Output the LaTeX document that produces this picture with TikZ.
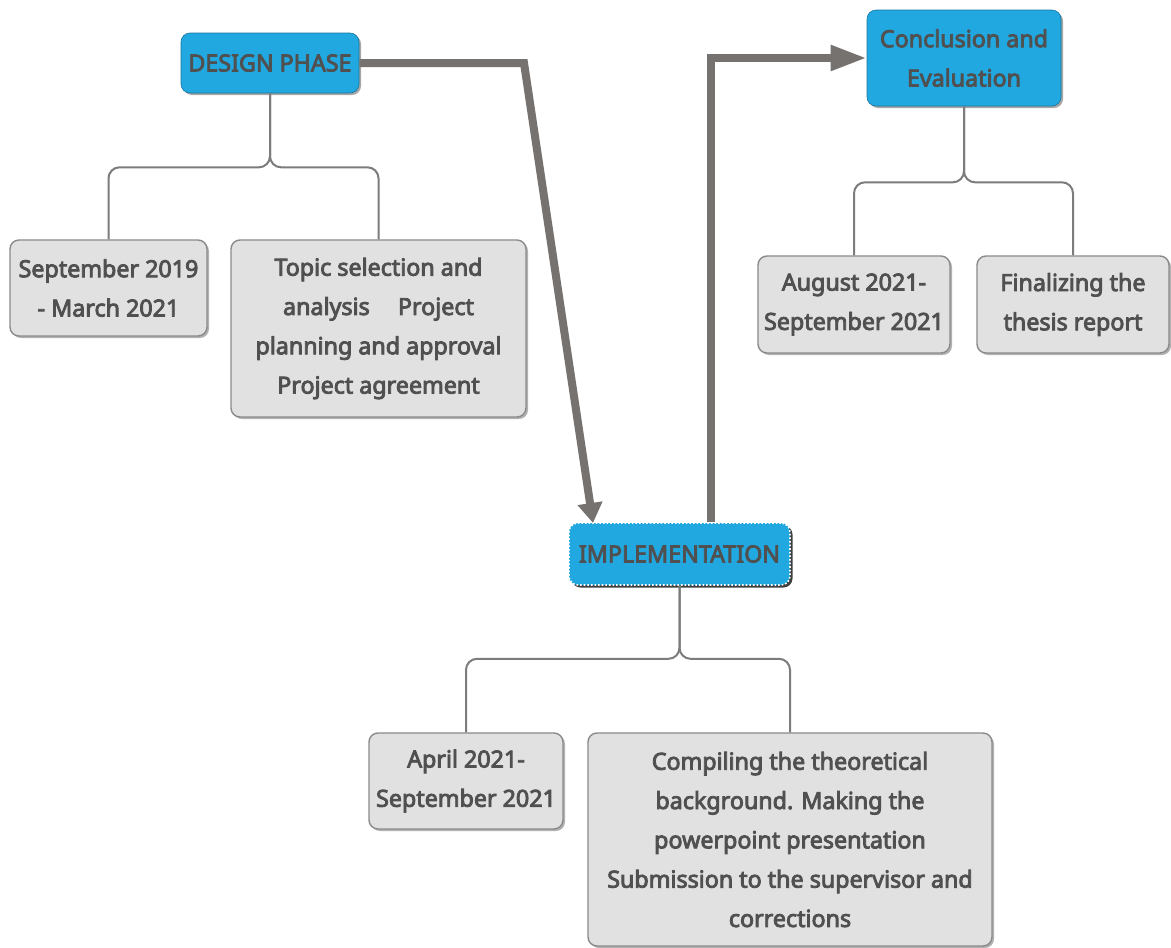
\documentclass[tikz,border=0pt]{standalone}
\usepackage{fontspec}
\newfontfamily\nf{Noto Sans}[FakeBold=3.6, FakeStretch=0.99]
\usetikzlibrary{arrows.meta,shadows}
\definecolor{blu}{HTML}{22A8E0}
\definecolor{gbox}{HTML}{E1E1E1}
\definecolor{gline}{HTML}{8A8A8A}
\definecolor{txt}{HTML}{505050}
\definecolor{arr}{HTML}{767270}
\definecolor{brl}{HTML}{7C7C7C}
\begin{document}
\begin{tikzpicture}[x=1pt,y=-1pt,
  base/.style={rounded corners=9pt, align=center, inner sep=0pt, text=txt,
    font=\nf\fontsize{23.5}{39.3}\selectfont},
  headbox/.style={base, fill=blu, draw=blu!70!black, line width=0.6pt,
    drop shadow={shadow xshift=2pt, shadow yshift=-2pt, fill=black, opacity=0.35}},
  itembox/.style={base, fill=gbox, draw=gline, line width=1.4pt,
    drop shadow={shadow xshift=2pt, shadow yshift=-2pt, fill=black, opacity=0.3}},
  br/.style={draw=brl, line width=2pt, rounded corners=11pt},
  bigarrow/.style={draw=arr, line width=8pt}
]
\useasboundingbox (0,0) rectangle (1171,948);
\fill[white] (0,0) rectangle (1171,948);

% head boxes
\node[headbox, minimum width=178pt, minimum height=60pt] (design) at (270,63) {DESIGN PHASE};
\node[headbox, minimum width=194pt, minimum height=96pt] (concl) at (964,58) {Conclusion and\\Evaluation};
\node[base, fill=blu, draw=white, dotted, line width=1.6pt, minimum width=221pt, minimum height=62pt,
  drop shadow={shadow xshift=2.5pt, shadow yshift=-2.5pt, fill=black, opacity=0.75}] (impl) at (679.5,554) {IMPLEMENTATION};

% item boxes
\node[itembox, minimum width=197pt, minimum height=96pt] (sep) at (108.5,288) {September 2019\\- March 2021};
\node[itembox, minimum width=295pt, minimum height=177pt] (topic) at (378.5,328.5) {Topic selection and\\analysis\hspace{1.2em}Project\\planning and approval\\Project agreement};
\node[itembox, minimum width=192pt, minimum height=97pt] (aug) at (854,304.5) {August 2021-\\September 2021};
\node[itembox, minimum width=192pt, minimum height=97pt] (fin) at (1073,304.5) {Finalizing the\\thesis report};
\node[itembox, minimum width=194pt, minimum height=96pt] (apr) at (466,781) {April 2021-\\September 2021};
\node[itembox, minimum width=404pt, minimum height=213pt] (comp) at (790,839.5) {Compiling the theoretical\\background. Making the\\powerpoint presentation\\Submission to the supervisor and\\corrections};

% brackets
\draw[br] (design.south) -- ++(0,74) -| (sep.north);
\draw[br] (design.south) -- ++(0,74) -| (topic.north);
\draw[br] (concl.south) -- ++(0,76) -| (aug.north);
\draw[br] (concl.south) -- ++(0,76) -| (fin.north);
\draw[br] (impl.south) -- ++(0,73) -| (apr.north);
\draw[br] (impl.south) -- ++(0,73) -| (comp.north);

% thick arrows
\coordinate (bend1) at (524,63);
\coordinate (tip1) at (593,523);
\draw[bigarrow, -{Triangle[length=20pt,width=24pt]}] (design.east) -- (bend1) -- (tip1);
\coordinate (start2) at ([xshift=31pt]impl.north);
\draw[bigarrow, -{Triangle[length=36pt,width=24pt]}] (start2) |- (concl.west);
\end{tikzpicture}
\end{document}
